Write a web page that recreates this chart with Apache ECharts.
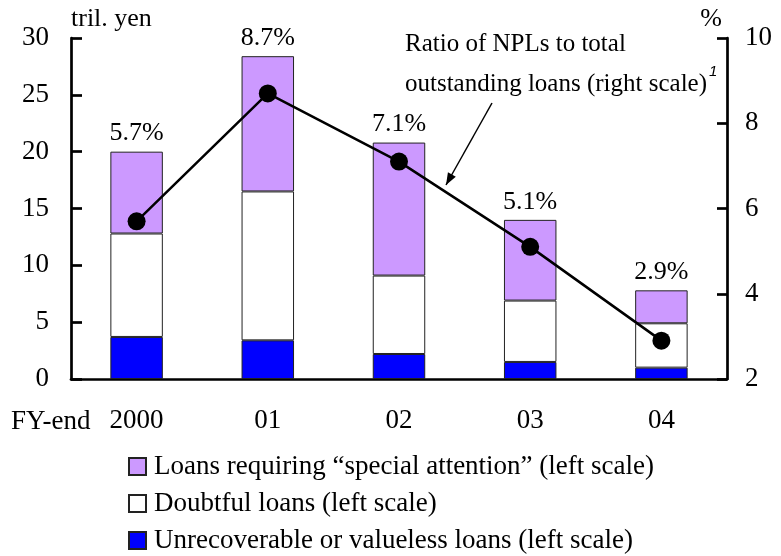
<!DOCTYPE html>
<html>
<head>
<meta charset="utf-8">
<script src="https://cdn.jsdelivr.net/npm/echarts@6/dist/echarts.min.js"></script>
<style>
  html, body { margin: 0; padding: 0; background: #fff; }
  #chart { width: 781px; height: 556px; }
</style>
</head>
<body>
<div id="chart"></div>
<script>
// 年度与数据
const categories = ['2000', '01', '02', '03', '04'];
const unrecoverable = [3.7, 3.4, 2.2, 1.5, 1.0];
const doubtful = [9.1, 13.1, 6.9, 5.4, 3.9];
const specialAttention = [7.2, 11.9, 11.7, 7.1, 2.9];
const nplRatio = [5.7, 8.7, 7.1, 5.1, 2.9];
const leftTicks = { min: 0, max: 30, interval: 5 };
const rightTicks = { min: 2, max: 10, interval: 2 };

const FONT = '"Liberation Serif", "Times New Roman", serif';
const PURPLE = '#cc99ff';
const BLUE = '#0000ff';
const FS = 26;

const chart = echarts.init(document.getElementById('chart'), null, { renderer: 'canvas' });

const barBase = {
  type: 'bar',
  stack: 'npl',
  barWidth: '40%',
  yAxisIndex: 0
};

// 注释箭头
const arrowFrom = [492, 103];
const arrowTo = [446, 185];
function arrowHead(from, to, len, half) {
  const dx = to[0] - from[0], dy = to[1] - from[1];
  const d = Math.sqrt(dx * dx + dy * dy);
  const ux = dx / d, uy = dy / d;
  const bx = to[0] - ux * len, by = to[1] - uy * len;
  return [to, [bx - uy * half, by + ux * half], [bx + uy * half, by - ux * half]];
}

const option = {
  animation: false,
  backgroundColor: '#fff',
  textStyle: { fontFamily: FONT, color: '#000' },
  grid: { left: 71, right: 54, top: 38, bottom: 177 },
  legend: {
    orient: 'vertical',
    left: 128,
    top: 453,
    height: 130,
    padding: 0,
    itemWidth: 17,
    itemHeight: 17,
    itemGap: 10,
    textStyle: { fontFamily: FONT, fontSize: 27, color: '#000', padding: [0, 0, 0, 3] },
    data: [
      { name: 'Loans requiring “special attention” (left scale)', icon: 'rect' },
      { name: 'Doubtful loans (left scale)', icon: 'rect' },
      { name: 'Unrecoverable or valueless loans (left scale)', icon: 'rect' }
    ]
  },
  xAxis: {
    type: 'category',
    data: categories,
    axisLine: { lineStyle: { color: '#000', width: 2.7 } },
    axisTick: { show: false },
    axisLabel: { fontFamily: FONT, fontSize: 27, color: '#000', margin: 28 }
  },
  yAxis: [
    {
      type: 'value',
      min: leftTicks.min,
      max: leftTicks.max,
      interval: leftTicks.interval,
      name: 'tril. yen',
      nameGap: 6,
      nameTextStyle: { fontFamily: FONT, fontSize: FS, color: '#000', align: 'left' },
      axisLine: { show: true, lineStyle: { color: '#000', width: 2.7 } },
      axisTick: { show: true, inside: true, length: 11, lineStyle: { color: '#000', width: 2.7 } },
      axisLabel: { fontFamily: FONT, fontSize: 27, color: '#000', margin: 22 },
      splitLine: { show: false }
    },
    {
      type: 'value',
      position: 'right',
      min: rightTicks.min,
      max: rightTicks.max,
      interval: rightTicks.interval,
      name: '%',
      nameGap: 6,
      nameTextStyle: { fontFamily: FONT, fontSize: FS, color: '#000', align: 'right', padding: [0, 5, 0, 0] },
      axisLine: { show: true, lineStyle: { color: '#000', width: 2.7 } },
      axisTick: { show: true, inside: true, length: 10, lineStyle: { color: '#000', width: 2.7 } },
      axisLabel: { fontFamily: FONT, fontSize: 27, color: '#000', margin: 18 },
      splitLine: { show: false }
    }
  ],
  series: [
    {
      ...barBase,
      name: 'Unrecoverable or valueless loans (left scale)',
      data: unrecoverable,
      itemStyle: { color: BLUE, borderColor: '#222', borderWidth: 1 }
    },
    {
      ...barBase,
      name: 'Doubtful loans (left scale)',
      data: doubtful,
      itemStyle: { color: '#fff', borderColor: '#222', borderWidth: 1 }
    },
    {
      ...barBase,
      name: 'Loans requiring “special attention” (left scale)',
      data: specialAttention,
      itemStyle: { color: PURPLE, borderColor: '#222', borderWidth: 1 },
      label: {
        show: true,
        position: 'top',
        distance: 5,
        fontFamily: FONT,
        fontSize: FS,
        color: '#000',
        formatter: p => nplRatio[p.dataIndex].toFixed(1) + '%'
      }
    },
    {
      type: 'line',
      name: 'ratio',
      yAxisIndex: 1,
      data: nplRatio,
      symbol: 'circle',
      symbolSize: 18,
      itemStyle: { color: '#000' },
      lineStyle: { color: '#000', width: 2.5 },
      z: 5
    }
  ],
  graphic: [
    {
      type: 'text',
      left: 11,
      top: 408,
      style: { text: 'FY-end', font: '27px ' + FONT, fill: '#000' }
    },
    {
      type: 'text',
      left: 405,
      top: 24,
      style: {
        text: 'Ratio of NPLs to total\noutstanding loans (right scale){sup|1}',
        fill: '#000',
        font: '25px ' + FONT,
        lineHeight: 40,
        rich: {
          sup: { fontSize: 15, fontStyle: 'italic', verticalAlign: 'top', padding: [0, 0, 16, 2] }
        }
      }
    },
    {
      type: 'line',
      shape: { x1: arrowFrom[0], y1: arrowFrom[1], x2: arrowTo[0], y2: arrowTo[1] },
      style: { stroke: '#000', lineWidth: 1.5 }
    },
    {
      type: 'polygon',
      shape: { points: arrowHead(arrowFrom, arrowTo, 12, 4.5) },
      style: { fill: '#000' }
    }
  ]
};

chart.setOption(option);
</script>
</body>
</html>
